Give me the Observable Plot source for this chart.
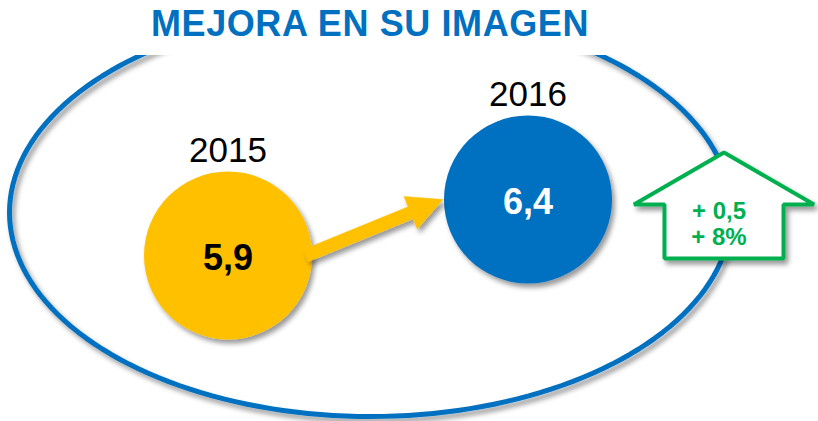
<!DOCTYPE html>
<html><head><meta charset="utf-8">
<script src="https://cdn.jsdelivr.net/npm/d3@7"></script>
<script src="https://cdn.jsdelivr.net/npm/@observablehq/plot@0.6"></script>
<style>
body{margin:0;background:#fff;}
#wrap{width:818px;height:421px;position:relative;overflow:hidden;background:#fff;font-family:"Liberation Sans",Arial,sans-serif;}
#title{height:55px;width:740px;text-align:center;color:#0070C0;font-weight:bold;font-size:36px;line-height:36px;padding-top:6px;box-sizing:border-box;letter-spacing:0.6px;}
#chart svg{display:block;overflow:hidden;}
</style></head><body>
<div id="wrap"><div id="title">MEJORA EN SU IMAGEN</div><div id="chart"></div></div>
<script>
// ---- data ----
const years = [2015, 2016];
const yearLabels = ["2015", "2016"];
const scores = [5.9, 6.4];
const scoreLabels = ["5,9", "6,4"];
const changeLabels = ["+ 0,5", "+ 8%"];

// ---- styles ----
const circleColors = ["#FFC000", "#0070C0"];
const valueColors = ["#000000", "#FFFFFF"];
const BLUE = "#0070C0", GREEN = "#00B050", YELLOW = "#FFC000";
const FONT = "Liberation Sans, Arial, sans-serif";

const W = 818, H = 366;
const xDomain = [2015, 2016], xRange = [227.5, 527.5];
const yDomain = [5.9, 6.4], yRange = [200, 144];
const sx = d3.scaleLinear(xDomain, xRange);
const sy = d3.scaleLinear(yDomain, yRange);
const P = ([px, py]) => ({x: sx.invert(px), y: sy.invert(py)});

const rows = years.map((y, i) => ({year: y, score: scores[i], label: yearLabels[i], value: scoreLabels[i], fill: circleColors[i], tc: valueColors[i]}));

const R = 84;

// frame ellipse (decoration)
const ecx = (sx(2015) + sx(2016)) / 2 - 7.5, ecy = 157, erx = 361, ery = 204;
const ellipse = d3.range(0, 361, 2).map(a => {
  const t = a * Math.PI / 180;
  return P([ecx + erx * Math.cos(t), ecy + ery * Math.sin(t)]);
});

// arrow from circle 2015 edge to circle 2016 edge
const start = [sx(2015) + R - 6, sy(5.9)];
const tip = [sx(2016) - R - 1, sy(6.4)];
const dx = tip[0] - start[0], dy = tip[1] - start[1], L = Math.hypot(dx, dy);
const u = [dx / L, dy / L], n = [-u[1], u[0]];
const headLen = 35, headHalf = 17.5, shaftHalf = 6.5;
const base = [tip[0] - u[0] * headLen, tip[1] - u[1] * headLen];
const off = (p, k) => [p[0] + n[0] * k, p[1] + n[1] * k];
const arrow = [off(start, shaftHalf), off(base, shaftHalf), off(base, headHalf), tip,
  off(base, -headHalf), off(base, -shaftHalf), off(start, -shaftHalf), off(start, shaftHalf)].map(P);

// change "house" arrow
const hx = sx(2016) + 196;
const hTop = sy(6.4) - 47, hShoulder = sy(6.4) + 5, hBottom = sy(5.9) + 3;
const bodyHalf = 59.5, wingHalf = 90;
const house = [[hx, hTop], [hx + wingHalf, hShoulder], [hx + bodyHalf, hShoulder], [hx + bodyHalf, hBottom],
  [hx - bodyHalf, hBottom], [hx - bodyHalf, hShoulder], [hx - wingHalf, hShoulder], [hx, hTop], [hx + wingHalf, hShoulder]].map(P);
const changeRows = changeLabels.map((t, i) => ({t, ...P([hx - 5, (hShoulder + 7) + i * 26])}));

const plot = Plot.plot({
  width: W, height: H, margin: 0,
  x: {domain: xDomain, range: xRange, axis: null},
  y: {domain: yDomain, range: yRange, axis: null},
  color: {type: "identity"},
  style: {background: "white", overflow: "hidden"},
  marks: [
    Plot.line(ellipse, {x: "x", y: "y", stroke: BLUE, strokeWidth: 5}),
    Plot.line(house, {x: "x", y: "y", stroke: GREEN, strokeWidth: 4, fill: "white", strokeLinejoin: "miter", strokeLinecap: "butt"}),
    Plot.text(changeRows, {x: "x", y: "y", text: "t", fill: GREEN, fontSize: 24, fontWeight: "bold", fontFamily: FONT}),
    Plot.dot(rows, {x: "year", y: "score", r: R, fill: "fill", stroke: null}),
    Plot.line(arrow, {x: "x", y: "y", fill: YELLOW, stroke: YELLOW, strokeWidth: 0.5}),
    Plot.text(rows, {x: "year", y: "score", text: "value", fill: "tc", fontSize: 36, fontWeight: "bold", fontFamily: FONT, dy: 3}),
    Plot.text(rows, {x: "year", y: "score", text: "label", fill: "black", fontSize: 35, fontFamily: FONT, dy: -105})
  ]
});

// drop shadow filter
const ns = "http://www.w3.org/2000/svg";
const defs = document.createElementNS(ns, "defs");
const filter = document.createElementNS(ns, "filter");
filter.setAttribute("id", "sh");
filter.setAttribute("x", "-20%"); filter.setAttribute("y", "-20%");
filter.setAttribute("width", "140%"); filter.setAttribute("height", "140%");
const fe = document.createElementNS(ns, "feDropShadow");
fe.setAttribute("dx", "3"); fe.setAttribute("dy", "4"); fe.setAttribute("stdDeviation", "2.5");
fe.setAttribute("flood-color", "#000"); fe.setAttribute("flood-opacity", "0.4");
filter.appendChild(fe); defs.appendChild(filter);
plot.insertBefore(defs, plot.firstChild);
const groups = plot.querySelectorAll(":scope > g");
[0, 1, 3, 4].forEach(i => groups[i] && groups[i].setAttribute("filter", "url(#sh)"));
document.getElementById("chart").appendChild(plot);
</script>
</body></html>
